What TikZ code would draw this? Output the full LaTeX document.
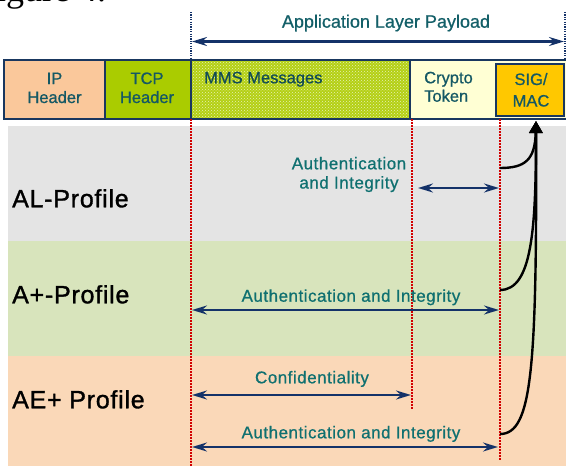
\documentclass[tikz,border=0pt]{standalone}
\usepackage{fontspec}
\setmainfont{Liberation Sans}
\newfontfamily\capfont{Liberation Serif}
\newfontfamily\hdrfont[FakeBold=0.8]{Liberation Sans}
\newfontfamily\spacedfont[LetterSpace=3,FakeBold=0.8]{Liberation Sans}
\newfontfamily\proffont[LetterSpace=3,FakeBold=1.2]{Liberation Sans}
\usetikzlibrary{arrows.meta,patterns}

\definecolor{ipfill}{RGB}{250,200,155}
\definecolor{tcpfill}{RGB}{170,204,0}
\definecolor{mmsfill}{RGB}{180,208,20}
\definecolor{tokfill}{RGB}{255,255,212}
\definecolor{sigfill}{RGB}{255,200,0}
\definecolor{framecol}{RGB}{25,55,95}
\definecolor{hdrtext}{RGB}{20,88,100}
\definecolor{tealtext}{RGB}{15,112,112}
\definecolor{navy}{RGB}{20,50,105}
\definecolor{alband}{RGB}{228,228,228}
\definecolor{apband}{RGB}{216,228,188}
\definecolor{aeband}{RGB}{250,216,184}
\definecolor{boundcol}{RGB}{210,0,0}

\tikzset{
  field/.style={draw=framecol, line width=1.6pt, anchor=north west, inner sep=0pt, outer sep=0pt},
  hdr/.style={text=hdrtext, font=\hdrfont\fontsize{16.5}{19}\selectfont, anchor=base, inner sep=0pt},
  teal/.style={text=tealtext, font=\spacedfont\fontsize{17}{20}\selectfont, anchor=base, inner sep=0pt},
  proflabel/.style={text=black, font=\proffont\fontsize{25}{28}\selectfont, anchor=base west, inner sep=0pt},
  band/.style={anchor=north west, inner sep=0pt, outer sep=0pt, minimum width=558},
  boundary/.style={draw=boundcol, line width=1.5pt, dash pattern=on 1.5pt off 1.5pt},
  topmark/.style={draw=navy, line width=1.2pt, dash pattern=on 1.2pt off 1.2pt},
  span/.style={draw=navy, line width=2.2pt,
    {Stealth[length=15pt,width=9pt,inset=5pt]}-{Stealth[length=15pt,width=9pt,inset=5pt]}},
  feed/.style={draw=black, line width=2.4pt, -{Triangle[length=12pt,width=13pt]}}
}

\begin{document}
\begin{tikzpicture}[x=1pt,y=-1pt]
\useasboundingbox (0,0) rectangle (566,466);

% caption above the figure
\node[font=\capfont\fontsize{36}{40}\selectfont, anchor=base west, inner sep=0pt] (fig) at (-24,1) {Figure 4.};

% profile bands
\node[band, fill=alband, minimum height=115] (alb) at (8,126) {};
\node[band, fill=apband, minimum height=115] (apb) at (8,241) {};
\node[band, fill=aeband, minimum height=111] (aeb) at (8,356) {};

% packet fields
\node[field, fill=ipfill, minimum width=101, minimum height=59] (ip) at (4,60) {};
\node[field, fill=tcpfill, minimum width=86, minimum height=59] (tcp) at (105,60) {};
\fill[mmsfill] (191,60) rectangle (410,119);
\node[field, pattern=crosshatch dots, pattern color=white!70!mmsfill, minimum width=219, minimum height=59] (mms) at (191,60) {};
\node[field, fill=tokfill, minimum width=160, minimum height=59] (tok) at (410,60) {};
\node[field, fill=sigfill, line width=2pt, minimum width=68, minimum height=52] (sig) at (496,64) {};

% field texts
\node[hdr] (ipa) at (54.5,84) {IP};
\node[hdr] (ipb) at (54.5,103) {Header};
\node[hdr] (tcpa) at (147,84) {TCP};
\node[hdr] (tcpb) at (147,103) {Header};
\node[hdr, anchor=base west, text=hdrtext!85!black] (mmst) at (204,83.3) {MMS Messages};
\node[hdr, anchor=base west] (toka) at (424,83.3) {Crypto};
\node[hdr, anchor=base west] (tokb) at (424,101.7) {Token};
\node[hdr] (siga) at (531,85) {SIG/};
\node[hdr] (sigb) at (531,106.5) {MAC};

% payload extent
\coordinate (pl1) at (191,12);
\coordinate (pl2) at (191,60);
\coordinate (pr1) at (565,12);
\coordinate (pr2) at (565,60);
\draw[topmark] (pl1) -- (pl2);
\draw[topmark] (pr1) -- (pr2);
\coordinate (payL) at (192,41.5);
\coordinate (payR) at (564,41.5);
\draw[span] (payL) -- (payR);
\node[teal, text=hdrtext!70!tealtext, font=\hdrfont\fontsize{18}{21}\selectfont] (payt) at (386,27.7) {Application Layer Payload};

% field boundaries through the profiles
\coordinate (b1t) at (191,119);
\coordinate (b1b) at (191,466);
\coordinate (b2t) at (412,119);
\coordinate (b2b) at (412,410);
\coordinate (b3t) at (500,119);
\coordinate (b3b) at (500,461);
\draw[boundary] (b1t) -- (b1b);
\draw[boundary] (b2t) -- (b2b);
\draw[boundary] (b3t) -- (b3b);

% profile labels
\node[proflabel] (alp) at (12,207.3) {AL-Profile};
\node[proflabel] (app) at (12,303.3) {A+-Profile};
\node[proflabel] (aep) at (12,408.3) {AE+ Profile};

% AL profile
\node[teal] (alt1) at (349,169.3) {Authentication};
\node[teal] (alt2) at (349,188.5) {and Integrity};
\coordinate (alL) at (418,188);
\coordinate (alR) at (499,188);
\draw[span] (alL) -- (alR);

% A+ profile
\node[teal] (apt) at (351,301.7) {Authentication and Integrity};
\coordinate (apL) at (192,310);
\coordinate (apR) at (499,310);
\draw[span] (apL) -- (apR);

% AE+ profile
\node[teal] (aect) at (312,383.3) {Confidentiality};
\coordinate (aecL) at (192,395);
\coordinate (aecR) at (411,395);
\draw[span] (aecL) -- (aecR);
\node[teal] (aeat) at (351,438.3) {Authentication and Integrity};
\coordinate (aeaL) at (192,447);
\coordinate (aeaR) at (498,447);
\draw[span] (aeaL) -- (aeaR);

% feeds into the SIG/MAC field
\coordinate (tip) at (536,121);
\coordinate (alS) at (500,168);
\coordinate (apS) at (500,290);
\coordinate (aeS) at (500,434);
\draw[feed] (aeS) .. controls (532,434) and (537,370) .. (tip);
\draw[feed] (apS) .. controls (532,290) and (536,230) .. (tip);
\draw[feed] (alS) .. controls (525,168) and (535,160) .. (tip);
\end{tikzpicture}
\end{document}
